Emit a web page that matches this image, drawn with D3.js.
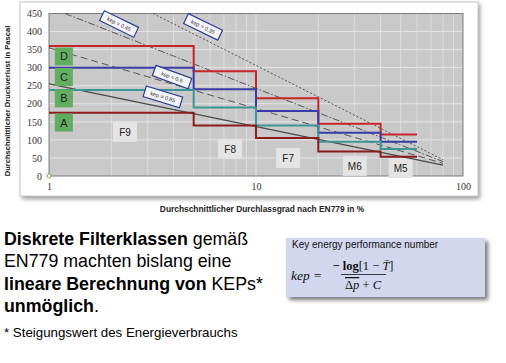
<!DOCTYPE html>
<html>
<head>
<meta charset="utf-8">
<script src="https://cdn.jsdelivr.net/npm/d3@7"></script>
<style>
  body { margin: 0; background: #fff; }
  svg { display: block; }
</style>
</head>
<body>
<script>
'use strict';

// step boundaries (Durchlassgrad in %) for F9, F8, F7, M6, M5
const bounds = [1, 5, 10, 20, 40, 60];
const filterClasses = ['F9', 'F8', 'F7', 'M6', 'M5'];
const classLabelPos = [[2.33, 122], [7.5, 75], [14.3, 50], [30, 28], [50, 22]];

// energy classes (upper limits of pressure drop per filter class)
const classNames = ['D', 'C', 'B', 'A'];
const classD = [360, 290, 215, 145, 115];
const classC = [300, 240, 180, 120, 95];
const classB = [238, 190, 140, 95, 75];
const classA = [175, 140, 105, 68, 53];
const classLetterY = [331, 274, 215, 148];

// constant kep lines: [T start, dp start, T end, dp end]
const kepValues = ['0.35', '0.45', '0.6', '0.85'];
const kepLines = [[3.18, 450, 80, 45], [1.195, 450, 80, 40], [1, 355, 80, 35], [1, 255, 80, 30]];
const kepLabelPos = [[5.55, 413], [2.18, 421], [3.93, 274], [3.55, 219]];
const kepLabelAngle = [26, 26, 20, 17];

const yTicks = [0, 50, 100, 150, 200, 250, 300, 350, 400, 450];
const xTicks = [1, 10, 100];

(function () {
    const svg = d3.select('body').append('svg')
        .attr('width', 506)
        .attr('height', 363);

    const defs = svg.append('defs');
    const blur = defs.append('filter').attr('id', 'sh')
        .attr('x', '-10%').attr('y', '-10%').attr('width', '130%').attr('height', '140%');
    blur.append('feGaussianBlur').attr('stdDeviation', 2);

    // chart frame with shadow
    svg.append('rect').attr('x', 22).attr('y', 4).attr('width', 458).attr('height', 195)
        .attr('fill', '#9a9a9a').attr('filter', 'url(#sh)');
    svg.append('rect').attr('x', 20).attr('y', 2).attr('width', 458).attr('height', 194)
        .attr('fill', '#fff').attr('stroke', '#c8c8c8');

    const x = d3.scaleLog().domain([1, 100]).range([49, 463]);
    const y = d3.scaleLinear().domain([0, 450]).range([176, 13.5]);

    // plot background
    svg.append('rect').attr('x', x(1)).attr('y', y(450))
        .attr('width', x(100) - x(1)).attr('height', y(0) - y(450))
        .attr('fill', '#c9c9c9');

    // grid
    const grid = svg.append('g');
    const minor = [];
    [1, 10].forEach(d => { for (let k = 2; k <= 10; k++) minor.push(d * k); });
    grid.selectAll('line.v').data(minor.filter(v => v < 100)).enter().append('line')
        .attr('x1', d => x(d)).attr('x2', d => x(d))
        .attr('y1', y(0)).attr('y2', y(450))
        .attr('stroke', '#e2e2e2').attr('stroke-width', d => d === 10 ? 1.2 : 0.8);
    grid.selectAll('line.h').data(yTicks.slice(1, -1)).enter().append('line')
        .attr('x1', x(1)).attr('x2', x(100))
        .attr('y1', d => y(d)).attr('y2', d => y(d))
        .attr('stroke', '#e6e6e6').attr('stroke-width', 1);

    svg.append('rect').attr('x', x(1)).attr('y', y(450))
        .attr('width', x(100) - x(1)).attr('height', y(0) - y(450))
        .attr('fill', 'none').attr('stroke', '#7a7a7a').attr('stroke-width', 1);

    // axes
    const yAxis = svg.append('g').attr('transform', `translate(${x(1)},0)`)
        .call(d3.axisLeft(y).tickValues(yTicks).tickSize(0).tickPadding(7));
    yAxis.select('.domain').remove();
    yAxis.selectAll('text').attr('font-family', 'Liberation Serif').attr('font-size', 10).attr('fill', '#333');

    const xAxis = svg.append('g').attr('transform', `translate(0,${y(0)})`)
        .call(d3.axisBottom(x).tickValues(xTicks).tickFormat(d3.format('d')).tickSize(0).tickPadding(7));
    xAxis.select('.domain').remove();
    xAxis.selectAll('text').attr('font-family', 'Liberation Serif').attr('font-size', 10).attr('fill', '#333');

    // axis titles
    svg.append('text').attr('transform', 'translate(10,101) rotate(-90)')
        .attr('text-anchor', 'middle').attr('font-family', 'Liberation Sans')
        .attr('font-weight', 'bold').attr('font-size', 7.6).attr('fill', '#222')
        .text('Durchschnittlicher Druckverlust in Pascal');
    svg.append('text').attr('x', 262).attr('y', 212)
        .attr('text-anchor', 'middle').attr('font-family', 'Liberation Sans')
        .attr('font-weight', 'bold').attr('font-size', 8.4).attr('fill', '#222')
        .text('Durchschnittlicher Durchlassgrad nach EN779 in %');

    // filter class labels
    const fl = svg.append('g').selectAll('g').data(filterClasses).enter().append('g')
        .attr('transform', (d, i) => `translate(${x(classLabelPos[i][0])},${y(classLabelPos[i][1])})`);
    fl.append('rect').attr('x', -12).attr('y', -10).attr('width', 24).attr('height', 20)
        .attr('fill', '#e4e4e4');
    fl.append('text').attr('text-anchor', 'middle').attr('dy', 4)
        .attr('font-family', 'Liberation Sans').attr('font-size', 10).attr('fill', '#222')
        .text(d => d);

    // kep lines
    const kepStyles = ['2,2', '7,2,1.5,2', '7,4', null];
    svg.append('g').selectAll('line').data(kepLines).enter().append('line')
        .attr('x1', d => x(d[0])).attr('y1', d => y(d[1]))
        .attr('x2', d => x(d[2])).attr('y2', d => y(d[3]))
        .attr('stroke', (d, i) => i === 3 ? '#4a4a4a' : '#555')
        .attr('stroke-width', (d, i) => i === 3 ? 1.2 : 1)
        .attr('stroke-dasharray', (d, i) => kepStyles[i]);

    // class step lines
    const series = [classD, classC, classB, classA];
    const colors = ['#c8242a', '#3a3aaa', '#3e9595', '#8c1c1c'];
    const line = d3.line().x(d => x(d[0])).y(d => y(d[1])).curve(d3.curveStepAfter);
    svg.append('g').selectAll('path').data(series).enter().append('path')
        .attr('d', s => line(bounds.map((b, i) => [b, s[Math.min(i, s.length - 1)]])))
        .attr('fill', 'none')
        .attr('stroke', (d, i) => colors[i])
        .attr('stroke-width', 2);

    // kep labels
    const kl = svg.append('g').selectAll('g').data(kepValues).enter().append('g')
        .attr('transform', (d, i) => `translate(${x(kepLabelPos[i][0])},${y(kepLabelPos[i][1])}) rotate(${kepLabelAngle[i]})`);
    kl.append('rect').attr('x', -19).attr('y', -5.5).attr('width', 38).attr('height', 11)
        .attr('fill', '#f4f4f8').attr('stroke', '#2d3f9a').attr('stroke-width', 1.2);
    kl.append('text').attr('text-anchor', 'middle').attr('dy', 2)
        .attr('font-family', 'Liberation Sans').attr('font-size', 5.5).attr('fill', '#333')
        .text(d => 'kep = ' + d);

    // energy class letters
    const cl = svg.append('g').selectAll('g').data(classNames).enter().append('g')
        .attr('transform', (d, i) => `translate(${x(1.18)},${y(classLetterY[i])})`);
    cl.append('rect').attr('x', -9).attr('y', -9).attr('width', 18).attr('height', 18)
        .attr('fill', '#63ad63');
    cl.append('text').attr('text-anchor', 'middle').attr('dy', 4)
        .attr('font-family', 'Liberation Sans').attr('font-size', 11).attr('fill', '#222')
        .text(d => d);

    // origin marker
    svg.append('circle').attr('cx', x(1)).attr('cy', y(0)).attr('r', 2)
        .attr('fill', '#fff').attr('stroke', '#7cb342').attr('stroke-width', 1);

    // bottom text
    const lines = [
        [['Diskrete Filterklassen', true], [' gemäß', false]],
        [['EN779 machten bislang eine', false]],
        [['lineare Berechnung von', true], [' KEPs*', false]],
        [['unmöglich', true], ['.', false]]
    ];
    lines.forEach((parts, i) => {
        const t = svg.append('text').attr('x', 4).attr('y', 245 + i * 22.3)
            .attr('font-family', 'Liberation Sans').attr('font-size', 17.8).attr('fill', '#000');
        parts.forEach(p => t.append('tspan').attr('font-weight', p[1] ? 'bold' : 'normal').text(p[0]));
    });
    svg.append('text').attr('x', 4).attr('y', 337)
        .attr('font-family', 'Liberation Sans').attr('font-size', 13.3).attr('fill', '#000')
        .text('* Steigungswert des Energieverbrauchs');

    // formula box
    svg.append('rect').attr('x', 289).attr('y', 241).attr('width', 199).attr('height', 59)
        .attr('fill', '#777').attr('filter', 'url(#sh)');
    svg.append('rect').attr('x', 286).attr('y', 238).attr('width', 199).attr('height', 59)
        .attr('fill', '#d2d7ef');
    svg.append('text').attr('x', 292).attr('y', 248)
        .attr('font-family', 'Liberation Sans').attr('font-size', 10).attr('fill', '#111')
        .text('Key energy performance number');
    svg.append('text').attr('x', 291).attr('y', 280)
        .attr('font-family', 'Liberation Serif').attr('font-style', 'italic')
        .attr('font-size', 13.5).attr('fill', '#111')
        .text('kep =');
    const num = svg.append('text').attr('x', 363).attr('y', 270).attr('text-anchor', 'middle')
        .attr('font-family', 'Liberation Serif').attr('font-size', 12.5).attr('fill', '#111');
    num.append('tspan').attr('font-weight', 'bold').text('− log');
    num.append('tspan').text('[1 − ');
    num.append('tspan').attr('font-style', 'italic').text('T̄');
    num.append('tspan').text(']');
    svg.append('line').attr('x1', 341).attr('x2', 386).attr('y1', 274.5).attr('y2', 274.5)
        .attr('stroke', '#111').attr('stroke-width', 0.8);
    const den = svg.append('text').attr('x', 363).attr('y', 289).attr('text-anchor', 'middle')
        .attr('font-family', 'Liberation Serif').attr('font-size', 12.5).attr('fill', '#111');
    den.append('tspan').attr('text-decoration', 'overline').text('Δ');
    den.append('tspan').attr('font-style', 'italic').attr('text-decoration', 'overline').text('p');
    den.append('tspan').text(' + ');
    den.append('tspan').attr('font-style', 'italic').text('C');
})();
</script>
</body>
</html>
